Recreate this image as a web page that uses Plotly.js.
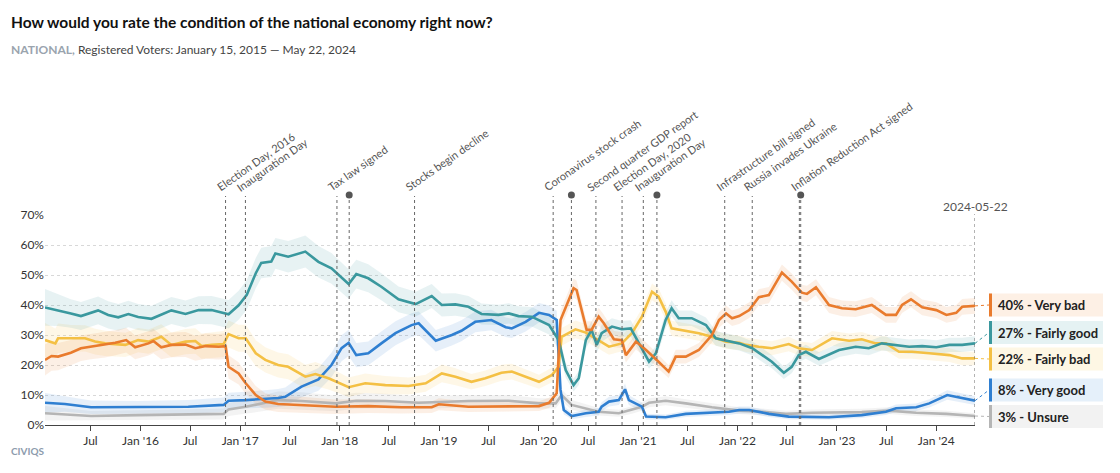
<!DOCTYPE html>
<html>
<head>
<meta charset="utf-8">
<script src="https://cdn.plot.ly/plotly-3.0.1.min.js"></script>
<style>
  html, body { margin: 0; padding: 0; background: #fff; }
  #chart { width: 1120px; height: 473px; }
</style>
</head>
<body>
<div id="chart"></div>
<script>
// ---------------- DATA ----------------
const seriesNames = ["Very bad", "Fairly good", "Fairly bad", "Very good", "Unsure"];

const veryBadDates = ["2015-01-15","2015-02-08","2015-03-04","2015-04-20","2015-05-27","2015-07-03","2015-08-24","2015-09-30","2015-11-09","2015-12-12","2016-01-30","2016-02-17","2016-03-17","2016-04-23","2016-06-14","2016-07-20","2016-08-27","2016-10-13","2016-11-08","2016-11-19","2016-12-26","2017-01-21","2017-02-27","2017-04-03","2017-05-20","2017-08-14","2017-12-17","2018-04-16","2018-08-16","2018-12-05","2018-12-31","2019-04-19","2019-09-14","2020-01-03","2020-02-09","2020-03-08","2020-03-22","2020-04-10","2020-05-09","2020-05-20","2020-06-26","2020-07-14","2020-08-09","2020-08-28","2020-10-04","2020-11-02","2020-11-17","2020-12-24","2021-01-30","2021-03-17","2021-04-23","2021-05-19","2021-06-25","2021-08-12","2021-09-29","2021-10-25","2021-11-20","2021-12-12","2022-01-07","2022-02-13","2022-03-20","2022-04-26","2022-06-13","2022-07-19","2022-08-25","2022-09-13","2022-10-16","2022-12-03","2023-01-20","2023-03-11","2023-05-09","2023-06-30","2023-08-06","2023-08-28","2023-09-30","2023-11-10","2024-01-01","2024-02-07","2024-03-14","2024-04-05","2024-05-22"];
const veryBadVals = [21.7,23.0,22.8,24.1,25.6,26.1,26.7,27.4,28.3,25.9,27.2,28.0,25.9,26.7,26.8,25.6,26.3,26.1,26.3,19.4,17.2,13.9,10.0,7.8,7.0,6.7,6.1,6.3,5.9,5.9,6.9,6.1,6.3,6.3,7.4,10.6,35.0,39.4,45.6,45.0,31.7,31.7,36.1,33.9,28.6,28.3,23.3,27.8,25.0,21.1,17.8,22.8,22.8,25.0,30.0,35.0,37.2,35.6,36.3,38.3,42.6,43.3,50.8,47.8,44.1,43.7,45.9,40.0,38.9,38.6,40.0,36.7,36.7,40.0,41.9,39.2,38.3,36.7,37.4,39.4,39.7];

const fairlyGoodDates = ["2015-01-15","2015-03-04","2015-04-20","2015-05-27","2015-06-22","2015-07-29","2015-09-04","2015-10-11","2015-11-17","2015-12-23","2016-02-10","2016-03-17","2016-04-23","2016-06-14","2016-08-01","2016-09-18","2016-11-08","2016-11-19","2016-12-26","2017-01-25","2017-02-27","2017-03-19","2017-04-25","2017-05-10","2017-06-26","2017-08-28","2017-10-15","2017-12-02","2018-02-03","2018-03-03","2018-04-16","2018-06-03","2018-08-05","2018-10-07","2018-12-05","2019-01-11","2019-03-02","2019-04-19","2019-06-06","2019-08-07","2019-09-14","2019-10-20","2019-12-07","2020-02-09","2020-03-15","2020-04-10","2020-05-09","2020-05-28","2020-06-23","2020-07-14","2020-08-02","2020-08-20","2020-09-27","2020-11-02","2020-12-05","2021-01-04","2021-02-10","2021-03-07","2021-04-12","2021-05-04","2021-05-30","2021-07-17","2021-09-07","2021-10-13","2021-12-01","2022-01-07","2022-02-24","2022-03-31","2022-05-07","2022-06-20","2022-07-19","2022-08-14","2022-09-09","2022-10-27","2023-01-09","2023-03-11","2023-04-28","2023-06-15","2023-08-06","2023-09-23","2023-11-10","2024-01-01","2024-02-18","2024-04-05","2024-05-22"];
const fairlyGoodVals = [39.2,38.3,37.2,36.3,37.0,38.2,36.7,35.9,37.0,36.0,35.4,36.7,38.2,37.0,38.3,38.3,37.2,36.9,39.9,43.4,50.6,54.0,54.5,57.2,56.1,57.8,54.4,52.2,47.0,50.3,48.9,46.1,41.9,40.3,43.0,40.0,40.2,39.4,37.0,36.7,37.2,36.3,36.1,33.3,28.3,18.3,13.3,15.6,28.3,31.7,26.7,30.6,32.8,31.9,32.2,27.2,21.1,23.9,35.0,38.9,35.6,35.6,33.3,28.9,27.8,27.2,25.6,23.3,21.1,17.4,19.4,23.3,24.4,22.0,25.0,26.1,25.6,27.2,26.7,26.1,26.3,25.9,26.7,26.7,27.2];

const fairlyBadDates = ["2015-01-15","2015-02-22","2015-03-04","2015-04-20","2015-06-11","2015-07-18","2015-08-24","2015-11-06","2015-12-23","2016-01-30","2016-03-17","2016-04-23","2016-06-14","2016-07-20","2016-08-12","2016-09-18","2016-11-01","2016-11-19","2016-12-26","2017-01-21","2017-02-27","2017-04-03","2017-05-20","2017-06-26","2017-08-28","2017-10-04","2017-11-21","2018-02-03","2018-04-05","2018-06-18","2018-09-11","2018-11-13","2019-01-11","2019-03-02","2019-04-30","2019-06-20","2019-08-18","2019-09-25","2019-11-15","2020-01-03","2020-02-20","2020-03-15","2020-03-26","2020-05-16","2020-06-23","2020-08-09","2020-09-16","2020-11-02","2020-12-09","2021-01-15","2021-02-21","2021-03-17","2021-04-12","2021-05-04","2021-06-25","2021-08-12","2021-09-29","2021-11-20","2022-01-07","2022-02-02","2022-03-20","2022-05-07","2022-07-08","2022-08-14","2022-10-01","2022-11-22","2022-12-14","2023-02-15","2023-04-02","2023-05-24","2023-06-30","2023-08-17","2023-10-04","2023-12-06","2024-02-18","2024-04-05","2024-05-22"];
const fairlyBadVals = [28.3,27.2,28.9,28.9,28.9,27.8,27.2,26.7,28.3,27.8,29.4,26.7,27.8,28.0,26.3,26.7,27.0,30.3,28.9,28.9,23.9,21.7,20.0,19.4,16.1,17.0,15.6,12.6,13.9,13.3,13.0,13.9,17.2,16.1,14.4,15.6,17.4,17.8,16.1,14.4,16.7,19.4,29.4,31.9,30.8,28.3,26.1,27.2,30.6,36.1,44.4,42.8,37.8,32.2,31.4,30.6,29.4,27.8,27.4,26.7,26.1,25.6,27.0,25.6,25.0,27.8,28.9,28.1,28.6,27.2,27.2,24.4,24.4,23.9,23.3,22.2,22.2];

const veryGoodDates = ["2015-01-15","2015-03-29","2015-07-03","2015-12-23","2016-06-24","2016-11-01","2016-11-19","2017-01-21","2017-04-03","2017-05-20","2017-06-15","2017-08-14","2017-10-15","2017-12-02","2018-01-08","2018-02-03","2018-03-03","2018-04-16","2018-06-03","2018-07-25","2018-09-22","2018-10-18","2018-12-20","2019-02-17","2019-03-24","2019-05-14","2019-07-12","2019-09-03","2019-09-25","2019-11-15","2020-01-03","2020-02-09","2020-03-08","2020-03-22","2020-04-03","2020-05-02","2020-06-23","2020-08-09","2020-08-20","2020-09-16","2020-10-22","2020-11-14","2020-11-28","2021-01-15","2021-01-30","2021-04-12","2021-06-25","2021-09-29","2021-12-01","2022-01-07","2022-02-13","2022-04-26","2022-07-08","2022-12-03","2023-04-02","2023-06-30","2023-08-06","2023-10-19","2023-12-06","2024-02-10","2024-04-05","2024-05-22"];
const veryGoodVals = [7.4,7.0,5.9,5.9,6.1,6.7,8.1,8.3,8.6,9.0,9.4,12.8,15.2,20.0,25.6,27.4,23.3,23.9,27.2,30.6,33.3,33.9,28.1,30.0,31.4,34.4,35.0,32.6,32.2,34.4,37.4,36.7,35.0,11.7,5.0,3.0,3.9,4.4,6.1,7.8,8.3,11.9,8.3,6.1,2.8,2.6,3.7,4.1,4.4,5.0,5.0,3.7,2.8,2.6,3.3,4.4,5.6,5.9,7.2,10.0,8.9,8.1];

const unsureDates = ["2015-01-15","2015-07-03","2015-12-23","2016-11-01","2016-11-19","2017-01-21","2017-04-03","2017-05-20","2017-08-14","2017-12-17","2018-03-03","2018-06-18","2018-10-18","2019-04-19","2019-09-14","2020-01-03","2020-03-04","2020-03-26","2020-05-02","2020-06-23","2020-08-09","2020-10-22","2020-12-09","2021-01-15","2021-02-10","2021-04-12","2021-06-25","2021-09-29","2022-01-07","2022-03-31","2022-06-28","2022-10-01","2023-04-02","2023-07-10","2023-10-19","2024-02-07","2024-05-22"];
const unsureVals = [3.9,3.0,3.3,3.7,5.2,6.1,7.4,8.3,8.0,7.2,8.1,8.0,7.4,8.0,8.1,7.2,7.2,10.0,6.7,5.6,4.4,3.9,5.0,6.1,7.4,8.1,7.2,5.9,4.8,4.4,3.7,4.1,4.3,4.8,4.1,3.7,3.0];

// approximate margin-of-error half-width (for a 50% share) read from the shaded bands
const moeDates = ["2015-01-15","2015-04-01","2016-01-01","2017-01-01","2017-09-01","2018-06-01","2019-06-01","2020-06-01","2021-06-01","2024-05-22"];
const moeVals = [7, 5.5, 5, 5.5, 6, 5, 4, 3.5, 3, 3];

const eventDates = ["2016-11-08","2017-01-20","2017-12-22","2018-10-03","2020-02-24","2020-07-30","2020-11-03","2021-01-20","2021-11-15","2022-02-24","2022-08-16"];
const eventLabels = ["Election Day, 2016","Inauguration Day","Tax law signed","Stocks begin decline","Coronavirus stock crash","Second quarter GDP report","Election Day, 2020","Inauguration Day","Infrastructure bill signed","Russia invades Ukraine","Inflation Reduction Act signed"];
const dotEventDates = ["2018-02-05","2020-05-01","2021-03-11","2022-08-21"];

const tickDates = ["2015-07-01","2016-01-01","2016-07-01","2017-01-01","2017-07-01","2018-01-01","2018-07-01","2019-01-01","2019-07-01","2020-01-01","2020-07-01","2021-01-01","2021-07-01","2022-01-01","2022-07-01","2023-01-01","2023-07-01","2024-01-01"];
const tickLabels = ["Jul","Jan '16","Jul","Jan '17","Jul","Jan '18","Jul","Jan '19","Jul","Jan '20","Jul","Jan '21","Jul","Jan '22","Jul","Jan '23","Jul","Jan '24"];
const yTickVals = [0, 10, 20, 30, 40, 50, 60, 70];
const yTickLabels = ["0%", "10%", "20%", "30%", "40%", "50%", "60%", "70%"];

const startDate = "2015-01-15";
const endDate = "2024-05-22";

// ---------------- STYLE ----------------
const colors = {
  "Very bad": "#e97b2d",
  "Fairly good": "#3a989e",
  "Fairly bad": "#f4c044",
  "Very good": "#2f7fd1",
  "Unsure": "#b5b5b5"
};
const boxBg = {
  "Very bad": "#fdf0e5",
  "Fairly good": "#e5f2f3",
  "Fairly bad": "#fef7e4",
  "Very good": "#e5f0fa",
  "Unsure": "#f2f2f2"
};
const bandRGBA = {
  "Very bad": "rgba(233,123,45,0.12)",
  "Fairly good": "rgba(58,152,158,0.12)",
  "Fairly bad": "rgba(244,192,68,0.13)",
  "Very good": "rgba(47,127,209,0.12)",
  "Unsure": "rgba(160,160,160,0.12)"
};
const boxCenterPx = {"Very bad": 305, "Fairly good": 332.5, "Fairly bad": 359, "Very good": 390, "Unsure": 416.5};

const FONT = "Lato, 'Open Sans', sans-serif";

const seriesData = {
  "Very bad": [veryBadDates, veryBadVals],
  "Fairly good": [fairlyGoodDates, fairlyGoodVals],
  "Fairly bad": [fairlyBadDates, fairlyBadVals],
  "Very good": [veryGoodDates, veryGoodVals],
  "Unsure": [unsureDates, unsureVals]
};

const PL = 45, PR = 975, PT = 215, PB = 425;
const pxX = p => (p - PL) / (PR - PL);
const pxY = p => (PB - p) / (PB - PT);

function moeAt(d) {
  const t = Date.parse(d);
  const ts = moeDates.map(Date.parse);
  if (t <= ts[0]) return moeVals[0];
  for (let i = 1; i < ts.length; i++) {
    if (t <= ts[i]) {
      const f = (t - ts[i-1]) / (ts[i] - ts[i-1]);
      return moeVals[i-1] + f * (moeVals[i] - moeVals[i-1]);
    }
  }
  return moeVals[moeVals.length - 1];
}

const traces = [];
const drawOrder = ["Unsure", "Very good", "Fairly bad", "Fairly good", "Very bad"];

drawOrder.forEach(name => {
  const [ds, vs] = seriesData[name];
  const up = [], lo = [];
  vs.forEach((v, i) => {
    const p = v / 100;
    const h = moeAt(ds[i]) * Math.sqrt(p * (1 - p)) / 0.5 * 0.9;
    up.push(v + h);
    lo.push(Math.max(0, v - h));
  });
  traces.push({
    x: ds.concat(ds.slice().reverse()),
    y: up.concat(lo.slice().reverse()),
    type: "scatter", mode: "lines", fill: "toself",
    fillcolor: bandRGBA[name], line: {width: 0, color: "rgba(0,0,0,0)"},
    hoverinfo: "skip", showlegend: false
  });
});

drawOrder.forEach(name => {
  const [ds, vs] = seriesData[name];
  traces.push({
    x: ds, y: vs, type: "scatter", mode: "lines", name: name,
    line: {color: colors[name], width: 2.6},
    showlegend: false
  });
});

const shapes = [];
const annotations = [];

const lineTop = pxY(196);
eventDates.forEach((d, i) => {
  shapes.push({type: "line", xref: "x", yref: "paper", x0: d, x1: d, y0: 0, y1: lineTop,
    line: {color: "#666", width: 1, dash: "dot"}, layer: "above"});
  annotations.push({
    xref: "x", yref: "paper", x: d, y: pxY(196), text: eventLabels[i],
    showarrow: false, textangle: -35, xanchor: "left", yanchor: "bottom",
    xshift: -14, yshift: 0,
    font: {family: FONT, size: 11, color: "#555"}
  });
});
dotEventDates.forEach(d => {
  shapes.push({type: "line", xref: "x", yref: "paper", x0: d, x1: d, y0: 0, y1: pxY(195),
    line: {color: "#666", width: 1, dash: "dot"}, layer: "above"});
  shapes.push({type: "circle", xref: "x", yref: "paper", xsizemode: "pixel", ysizemode: "pixel",
    xanchor: d, yanchor: pxY(195), x0: -3.5, x1: 3.5, y0: -3.5, y1: 3.5,
    fillcolor: "#555", line: {width: 0}, layer: "above"});
});
shapes.push({type: "line", xref: "x", yref: "paper", x0: endDate, x1: endDate, y0: 0, y1: pxY(214),
  line: {color: "#666", width: 1, dash: "dot"}, layer: "above"});
annotations.push({xref: "x", yref: "paper", x: endDate, y: pxY(206), text: endDate,
  showarrow: false, xanchor: "center", yanchor: "middle",
  font: {family: FONT, size: 12, color: "#555"}});

const boxX0 = pxX(989), boxX1 = pxX(1103), barX1 = pxX(992);
seriesNames.forEach(name => {
  const [ds, vs] = seriesData[name];
  const last = vs[vs.length - 1];
  const c = boxCenterPx[name];
  shapes.push({type: "rect", xref: "paper", yref: "paper", x0: boxX0, x1: boxX1,
    y0: pxY(c + 11.5), y1: pxY(c - 11.5), fillcolor: boxBg[name], line: {width: 0}});
  shapes.push({type: "rect", xref: "paper", yref: "paper", x0: boxX0, x1: barX1,
    y0: pxY(c + 11.5), y1: pxY(c - 11.5), fillcolor: colors[name], line: {width: 0}});
  shapes.push({type: "line", xref: "paper", yref: "paper", x0: 1, x1: boxX0,
    y0: last / 70, y1: pxY(c), line: {color: colors[name], width: 1, dash: "dot"}});
  annotations.push({xref: "paper", yref: "paper", x: pxX(996), y: pxY(c),
    text: "<b>" + Math.round(last) + "% - " + name + "</b>", showarrow: false,
    xanchor: "left", yanchor: "middle", font: {family: FONT, size: 13, color: "#222"}});
});

annotations.push({xref: "paper", yref: "paper", x: pxX(9), y: pxY(22),
  text: "<b>How would you rate the condition of the national economy right now?</b>",
  showarrow: false, xanchor: "left", yanchor: "middle",
  font: {family: FONT, size: 15.5, color: "#111"}});
annotations.push({xref: "paper", yref: "paper", x: pxX(9), y: pxY(50),
  text: "<span style='color:#9aa4ae'><b>NATIONAL,</b></span> Registered Voters: January 15, 2015 — May 22, 2024",
  showarrow: false, xanchor: "left", yanchor: "middle",
  font: {family: FONT, size: 12, color: "#444"}});
annotations.push({xref: "paper", yref: "paper", x: pxX(9), y: pxY(451),
  text: "<b>CIVIQS</b>", showarrow: false, xanchor: "left", yanchor: "middle",
  font: {family: FONT, size: 10, color: "#8d9cad"}});

const layout = {
  width: 1120, height: 473, autosize: false,
  margin: {l: PL, r: 1120 - PR, t: PT, b: 473 - PB, pad: 0},
  paper_bgcolor: "#fff", plot_bgcolor: "#fff",
  font: {family: FONT, size: 12, color: "#333"},
  showlegend: false,
  xaxis: {
    type: "date", range: [startDate, endDate],
    tickmode: "array", tickvals: tickDates, ticktext: tickLabels,
    showgrid: false, zeroline: false,
    showline: true, linecolor: "#444", linewidth: 1,
    ticks: "outside", ticklen: 5, tickcolor: "#444", tickwidth: 1,
    tickfont: {family: FONT, size: 12, color: "#333"}
  },
  yaxis: {
    range: [0, 70], tickmode: "array", tickvals: yTickVals, ticktext: yTickLabels,
    showgrid: true, gridcolor: "#d8d8d8", griddash: "dot", gridwidth: 1,
    zeroline: false, showline: false, ticks: "",
    tickfont: {family: FONT, size: 12, color: "#333"}
  },
  shapes: shapes,
  annotations: annotations,
  hovermode: false
};

Plotly.newPlot("chart", traces, layout, {displayModeBar: false, staticPlot: true});
</script>
</body>
</html>
